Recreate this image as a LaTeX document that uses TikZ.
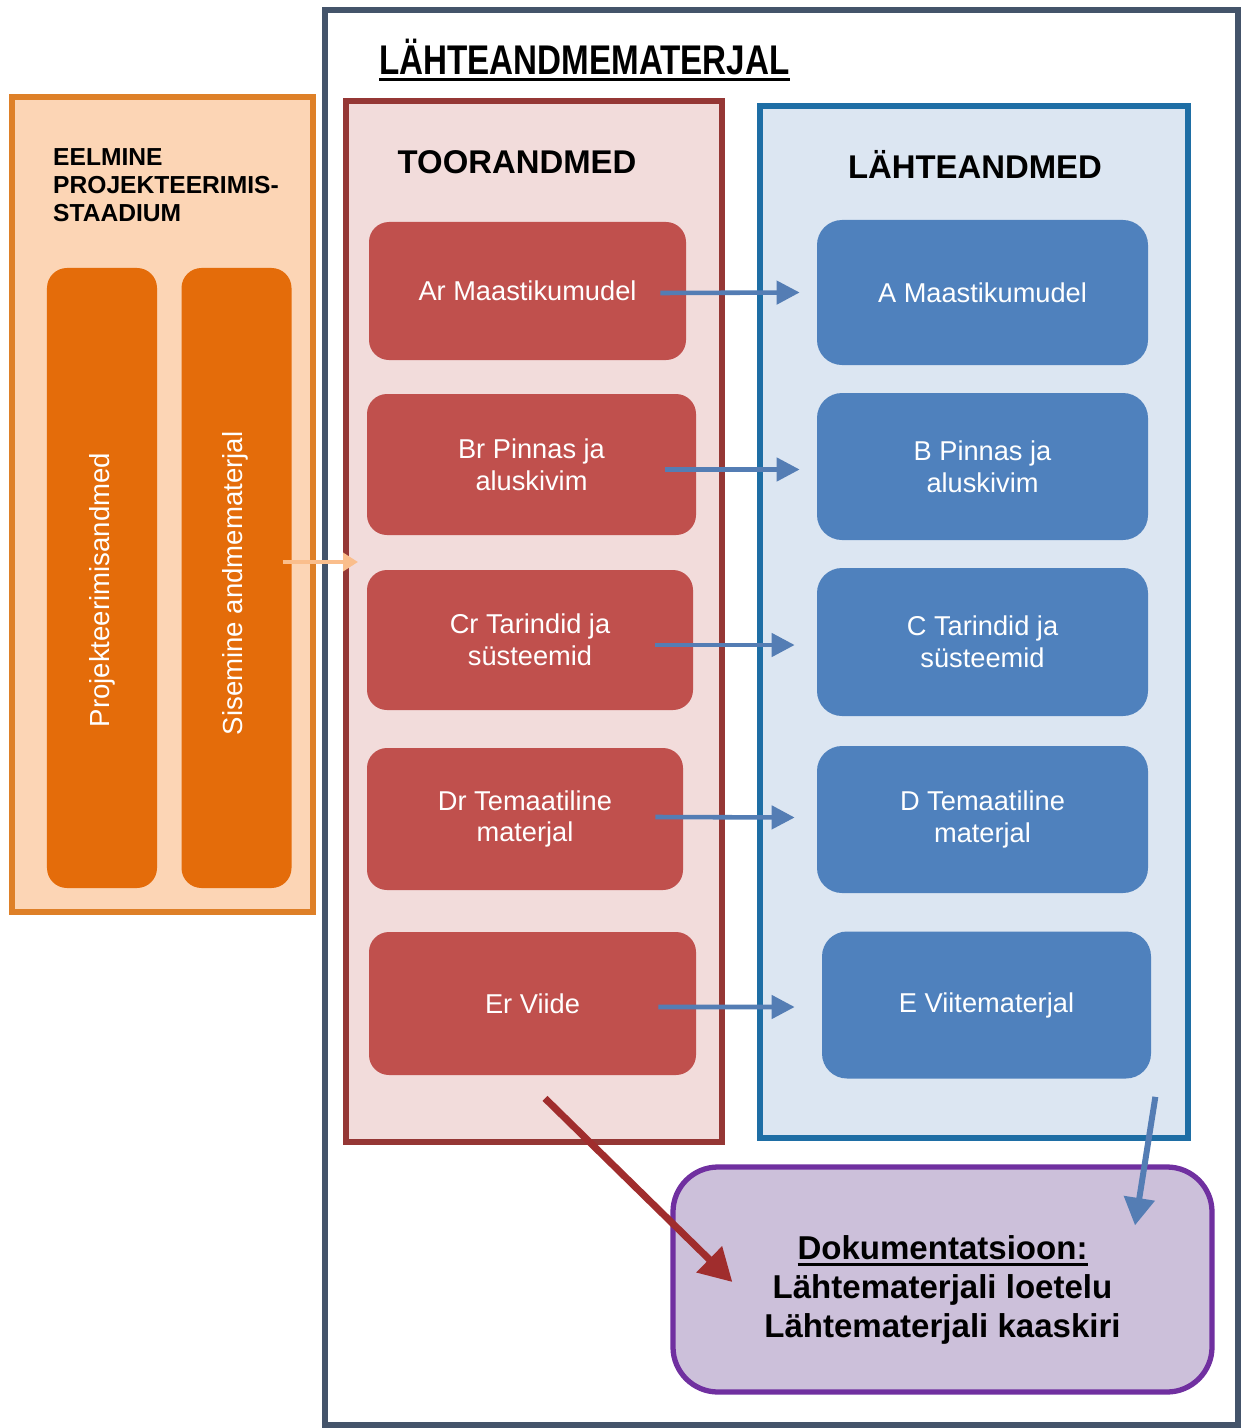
\documentclass[tikz,border=0pt]{standalone}
\usepackage{fontspec}
\setmainfont{Liberation Sans}
\newfontfamily\narrowfont[FakeStretch=0.8]{Liberation Sans}
\usetikzlibrary{arrows.meta,calc}
\definecolor{outerline}{RGB}{68,84,106}
\definecolor{prevline}{RGB}{222,128,40}
\definecolor{prevfill}{RGB}{252,213,181}
\definecolor{barfill}{RGB}{228,108,10}
\definecolor{rawline}{RGB}{149,55,53}
\definecolor{rawbg}{RGB}{242,220,219}
\definecolor{rawfill}{RGB}{192,80,77}
\definecolor{srcline}{RGB}{30,110,165}
\definecolor{srcbg}{RGB}{220,230,242}
\definecolor{srcfill}{RGB}{79,129,189}
\definecolor{docline}{RGB}{112,48,160}
\definecolor{docfill}{RGB}{204,192,218}
\definecolor{flowblue}{RGB}{84,125,180}
\definecolor{flowred}{RGB}{160,45,45}
\definecolor{floworange}{RGB}{250,190,140}
\newcommand{\thickul}[1]{\setbox0=\hbox{#1}\rlap{\rule[-3.5pt]{\wd0}{1.8pt}}\box0}
\begin{document}
\begin{tikzpicture}[x=0.2mm,y=-0.2mm,
  frame/.style={draw,line width=3pt,inner sep=0pt,outer sep=0pt},
  bar/.style={fill=barfill,rounded corners=4mm,inner sep=0pt,minimum width=22mm,minimum height=124mm},
  bartext/.style={text=white,rotate=90,inner sep=0pt,font=\fontsize{15.7}{18}\selectfont},
  rawbox/.style={fill=rawfill,rounded corners=4mm,text=white,align=center,inner sep=0pt,
    font=\fontsize{15.5}{18}\selectfont},
  srcbox/.style={fill=srcfill,rounded corners=5mm,text=white,align=center,inner sep=0pt,
    font=\fontsize{15.5}{18}\selectfont},
  head/.style={font=\bfseries\fontsize{18.7}{22}\selectfont},
  flow/.style={draw=flowblue,line width=2.6pt,-{Triangle[length=4.6mm,width=4.6mm]}}]
\useasboundingbox (0,0) rectangle (1241,1428);

% frames
\node[frame,draw=outerline,fill=white,minimum width=182.6mm,minimum height=283mm] (all) at (781.5,717.5) {};
\node[anchor=west,font=\narrowfont\bfseries\fontsize{23.6}{26}\selectfont] (title) at (373,60) {\thickul{LÄHTEANDMEMATERJAL}};
\node[frame,draw=prevline,fill=prevfill,minimum width=60.2mm,minimum height=163mm] (prev) at (162.5,504.5) {};
\node[frame,draw=rawline,fill=rawbg,minimum width=75.2mm,minimum height=208.2mm] (toor) at (534,621.5) {};
\node[frame,draw=srcline,fill=srcbg,minimum width=85.6mm,minimum height=206.4mm] (lahte) at (974,622) {};

% previous stage
\node[anchor=north west,align=left,font=\bfseries\fontsize{14}{15.9}\selectfont] (prevtitle) at (47,142) {EELMINE\\PROJEKTEERIMIS-\\STAADIUM};
\node[bar] (proj) at (102,578) {};
\node[bar] (sis) at (236.5,578) {};
\node[bartext] (projtext) at (102,590) {Projekteerimisandmed};
\node[bartext] (sistext) at (235,583.5) {Sisemine andmematerjal};

% raw data
\node[head] (toortitle) at (517,162) {TOORANDMED};
\node[rawbox,minimum width=63.4mm,minimum height=27.6mm] (ar) at (527.5,291) {Ar Maastikumudel};
\node[rawbox,minimum width=65.8mm,minimum height=28.2mm] (br) at (531.5,464.5) {Br Pinnas ja\\aluskivim};
\node[rawbox,minimum width=65.2mm,minimum height=28mm] (cr) at (530,640) {Cr Tarindid ja\\süsteemid};
\node[rawbox,minimum width=63.2mm,minimum height=28.4mm] (dr) at (525,819) {Dr Temaatiline\\materjal};
\node[rawbox,minimum width=65.4mm,minimum height=28.6mm] (er) at (532.5,1003.5) {Er Viide};

% source data
\node[head] (lahtetitle) at (975,164) {LÄHTEANDMED};
\node[srcbox,minimum width=66.2mm,minimum height=29mm] (a) at (982.5,292.5) {A Maastikumudel};
\node[srcbox,minimum width=66.2mm,minimum height=29.4mm] (b) at (982.5,466.5) {B Pinnas ja\\aluskivim};
\node[srcbox,minimum width=66.2mm,minimum height=29.6mm] (c) at (982.5,642) {C Tarindid ja\\süsteemid};
\node[srcbox,minimum width=66.2mm,minimum height=29.4mm] (d) at (982.5,819.5) {D Temaatiline\\materjal};
\node[srcbox,minimum width=65.8mm,minimum height=29.4mm] (e) at (986.5,1005) {E Viitematerjal};

% documentation
\node[draw=docline,line width=3pt,fill=docfill,rounded corners=9mm,minimum width=107.8mm,minimum height=45mm] (doc) at (942.5,1279.5) {};
\node[align=center,font=\bfseries\fontsize{18.8}{22}\selectfont] (doctext) at (942.5,1290)
  {\thickul{Dokumentatsioon:}\\Lähtematerjali loetelu\\Lähtematerjali kaaskiri};

% arrows
\path[flow] ($(ar.east)+(-26,2)$) -- ($(a.west)+(-17,0)$);
\path[flow] ($(br.east)+(-31,5)$) -- ($(b.west)+(-17,3)$);
\path[flow] ($(cr.east)+(-38,5)$) -- ($(c.west)+(-22,3)$);
\path[flow] ($(dr.east)+(-28,-2)$) -- ($(d.west)+(-22,-2)$);
\path[flow] ($(er.east)+(-38,3.5)$) -- ($(e.west)+(-27,2)$);
\path[draw=floworange,line width=2.4pt,-{Triangle[length=3mm,width=3.6mm]}] ($(sis.center)+(46,-16)$) -- ($(toor.west)+(12,-59.5)$);
\path[draw=flowred,line width=4pt,-{Triangle[length=6.5mm,width=7mm]}] ($(er.south)+(12.5,23)$) -- ($(doc.west)+(62,2.5)$);
\path[draw=flowblue,line width=3.4pt,-{Triangle[length=5.5mm,width=6mm]}] ($(e.south east)+(4,18)$) -- ($(doc.north)+(192.5,61)$);
\end{tikzpicture}
\end{document}
